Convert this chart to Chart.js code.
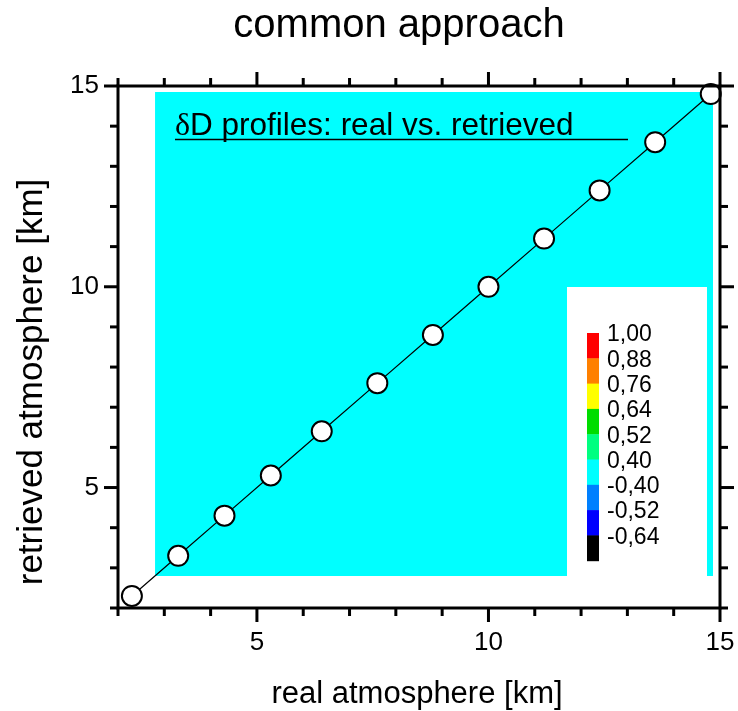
<!DOCTYPE html>
<html>
<head>
<meta charset="utf-8">
<script src="https://cdn.jsdelivr.net/npm/chart.js@4.4.1/dist/chart.umd.min.js"></script>
<style>
  html, body { margin: 0; padding: 0; background: #fff; }
  #wrap { width: 738px; height: 711px; }
</style>
</head>
<body>
<div id="wrap"><canvas id="chart"></canvas></div>
<script>
// profile levels, real vs retrieved (km)
const realKm = [2.3, 3.3, 4.3, 5.3, 6.4, 7.6, 8.8, 10.0, 11.2, 12.4, 13.6, 14.8];
const retrievedKm = [2.3, 3.3, 4.3, 5.3, 6.4, 7.6, 8.8, 10.0, 11.2, 12.4, 13.6, 14.8];
const tickLabels = [5, 10, 15];
const axisMin = 2, axisMax = 15;

// contour field: whole area falls into the 0,40 level
const contourX = [2.8, 14.85];
const contourTop = 14.85;
const contourBottom = 2.8;

const levelLabels = ['1,00', '0,88', '0,76', '0,64', '0,52', '0,40', '-0,40', '-0,52', '-0,64'];
const levelColors = ['#ff0000', '#ff8000', '#ffff00', '#00dd00', '#00ff80', '#00ffff', '#0080ff', '#0000ff', '#000000'];

const FONT = '"Liberation Sans", Arial, sans-serif';
Chart.defaults.font.family = FONT;
Chart.defaults.color = '#000';

function line(ctx, x1, y1, x2, y2) {
  ctx.beginPath();
  ctx.moveTo(x1, y1);
  ctx.lineTo(x2, y2);
  ctx.stroke();
}

const decor = {
  id: 'decor',
  beforeDatasetDraw(chart, args) {
    // white legend box sits over the contour, under the profile line
    if (args.index !== 0) return;
    const ctx = chart.ctx;
    const a = chart.chartArea;
    const bx = a.left + 449, by = a.top + 201, bw = 140, bh = 289;
    ctx.save();
    ctx.fillStyle = '#fff';
    ctx.fillRect(bx, by, bw, bh);
    const sh = 25.3;
    levelColors.forEach((c, i) => {
      ctx.fillStyle = c;
      ctx.fillRect(bx + 20, by + 46 + i * sh, 12, sh + 0.5);
    });
    ctx.fillStyle = '#000';
    ctx.font = '23px ' + FONT;
    ctx.textAlign = 'left';
    ctx.textBaseline = 'middle';
    levelLabels.forEach((t, i) => {
      ctx.fillText(t, bx + 40, by + 48 + i * sh);
    });
    ctx.restore();
  },
  afterDraw(chart) {
    const ctx = chart.ctx;
    const a = chart.chartArea;
    const xs = chart.scales.x, ys = chart.scales.y;
    ctx.save();
    ctx.strokeStyle = '#000';
    ctx.lineWidth = 3;
    ctx.strokeRect(a.left, a.top, a.right - a.left, a.bottom - a.top);
    for (let v = axisMin; v <= axisMax; v++) {
      const len = tickLabels.includes(v) ? 14 : 8;
      const px = xs.getPixelForValue(v);
      const py = ys.getPixelForValue(v);
      line(ctx, px, a.bottom, px, a.bottom + len);
      line(ctx, px, a.top, px, a.top - len);
      line(ctx, a.left, py, a.left - len, py);
      line(ctx, a.right, py, a.right + len, py);
    }

    // in-plot caption
    ctx.fillStyle = '#000';
    ctx.textBaseline = 'alphabetic';
    ctx.textAlign = 'left';
    ctx.font = '32px "Liberation Serif", serif';
    ctx.fillText('\u03b4', 175, 135);
    const dw = ctx.measureText('\u03b4').width;
    ctx.font = '31.5px ' + FONT;
    ctx.fillText('D profiles: real vs. retrieved', 175 + dw, 135);
    ctx.lineWidth = 1.5;
    line(ctx, 175, 139.5, 628, 139.5);

    // titles
    ctx.textAlign = 'center';
    ctx.font = '40px ' + FONT;
    ctx.fillText('common approach', 399, 37);
    ctx.font = '31px ' + FONT;
    ctx.fillText('real atmosphere [km]', 417, 703);
    ctx.translate(42, 382);
    ctx.rotate(-Math.PI / 2);
    ctx.font = '35px ' + FONT;
    ctx.fillText('retrieved atmosphere [km]', 0, 0);
    ctx.restore();
  }
};

new Chart(document.getElementById('chart'), {
  type: 'scatter',
  data: {
    datasets: [{
      data: realKm.map((x, i) => ({ x: x, y: retrievedKm[i] })),
      showLine: true,
      borderColor: '#000',
      borderWidth: 1.2,
      pointRadius: 10,
      pointBackgroundColor: '#fff',
      pointBorderColor: '#000',
      pointBorderWidth: 2,
      clip: false,
      order: 1
    }, {
      type: 'line',
      data: contourX.map(x => ({ x: x, y: contourTop })),
      fill: { value: contourBottom },
      backgroundColor: '#00ffff',
      borderWidth: 0,
      pointRadius: 0,
      order: 2
    }]
  },
  options: {
    responsive: true,
    maintainAspectRatio: false,
    animation: false,
    events: [],
    layout: { padding: { top: 86, right: 18, left: 0, bottom: 0 } },
    plugins: { legend: { display: false }, tooltip: { enabled: false } },
    scales: {
      x: {
        type: 'linear',
        min: axisMin, max: axisMax,
        grid: { display: false, drawTicks: false },
        border: { display: false },
        afterBuildTicks: s => { s.ticks = tickLabels.map(v => ({ value: v })); },
        afterFit: s => { s.height = 103; s.paddingLeft = 0; s.paddingRight = 0; },
        ticks: { font: { size: 26 }, padding: 19, maxRotation: 0 }
      },
      y: {
        type: 'linear',
        min: axisMin, max: axisMax,
        grid: { display: false, drawTicks: false },
        border: { display: false },
        afterBuildTicks: s => { s.ticks = tickLabels.map(v => ({ value: v })); },
        afterFit: s => { s.width = 118; s.paddingTop = 0; s.paddingBottom = 0; },
        ticks: { font: { size: 26 }, padding: 19 }
      }
    }
  },
  plugins: [decor]
});
</script>
</body>
</html>
